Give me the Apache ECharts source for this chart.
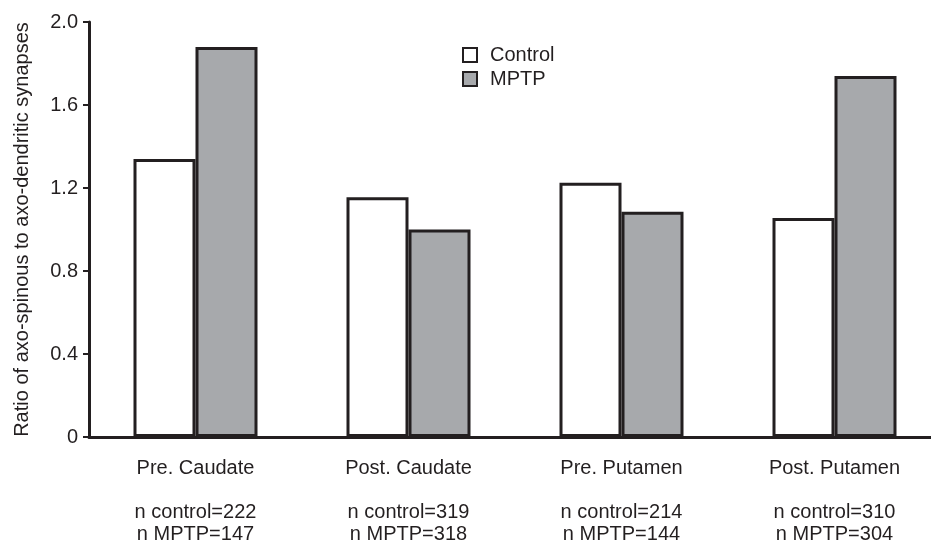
<!DOCTYPE html>
<html><head><meta charset="utf-8">
<script src="https://cdn.jsdelivr.net/npm/echarts@6/dist/echarts.min.js"></script>
<style>html,body{margin:0;padding:0;background:#fff}#c{width:931px;height:545px}</style>
</head><body><div id="c"></div>
<script>
const categories = ['Pre. Caudate', 'Post. Caudate', 'Pre. Putamen', 'Post. Putamen'];
const nControl = [222, 319, 214, 310];
const nMPTP = [147, 318, 144, 304];
const controlValues = [1.34, 1.155, 1.225, 1.055];
const mptpValues = [1.88, 1.0, 1.085, 1.74];
const yTicks = [0, 0.4, 0.8, 1.2, 1.6, 2.0];

const ink = '#231f20';
const font = 'Liberation Sans, Arial, sans-serif';
const chart = echarts.init(document.getElementById('c'));
chart.setOption({
  animation: false,
  backgroundColor: '#fff',
  textStyle: {fontFamily: font},
  legend: {
    orient: 'vertical', left: 457, top: 40, itemWidth: 14, itemHeight: 14, itemGap: 4,
    icon: 'rect',
    itemStyle: {borderWidth: 2, borderColor: ink},
    textStyle: {fontFamily: font, fontSize: 20, color: ink, padding: [0, 0, 0, 8]},
    data: ['Control', 'MPTP']
  },
  grid: {left: 89, top: 22, width: 852, height: 415, containLabel: false, outerBoundsMode: 'none'},
  xAxis: {
    type: 'category', data: categories,
    axisLine: {lineStyle: {color: ink, width: 3}},
    axisTick: {show: false},
    axisLabel: {
      fontFamily: font, fontSize: 20, color: ink, lineHeight: 22, margin: 20,
      formatter: (v, i) => v + '\n\nn control=' + nControl[i] + '\nn MPTP=' + nMPTP[i]
    }
  },
  yAxis: {
    type: 'value', min: 0, max: 2.0, interval: 0.4,
    name: 'Ratio of axo-spinous to axo-dendritic synapses',
    nameLocation: 'middle', nameGap: 57,
    nameTextStyle: {fontFamily: font, fontSize: 20, color: ink},
    axisLine: {show: true, lineStyle: {color: ink, width: 3}},
    axisTick: {show: true, length: 6, lineStyle: {color: ink, width: 2}},
    splitLine: {show: false},
    axisLabel: {
      fontFamily: font, fontSize: 20, color: ink, margin: 11,
      formatter: v => { const t = yTicks.find(x => Math.abs(x - v) < 1e-9); return t === 0 ? '0' : t.toFixed(1); }
    }
  },
  series: [
    {name: 'Control', type: 'bar', data: controlValues, barWidth: 62, barGap: '0%',
     itemStyle: {color: '#ffffff', borderColor: ink, borderWidth: 3}},
    {name: 'MPTP', type: 'bar', data: mptpValues, barWidth: 62,
     itemStyle: {color: '#a7a9ac', borderColor: ink, borderWidth: 3}}
  ]
});
</script></body></html>
